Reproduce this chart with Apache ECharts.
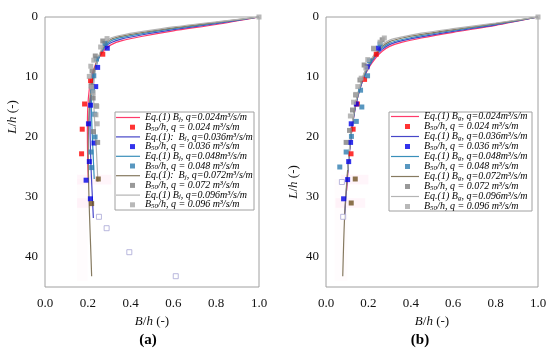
<!DOCTYPE html>
<html><head><meta charset="utf-8">
<script src="https://cdn.jsdelivr.net/npm/echarts@6/dist/echarts.min.js"></script>
<style>html,body{margin:0;padding:0;background:#fff}#c{width:550px;height:352px}</style>
</head><body><div id="c"></div>
<script>
// ---------- data ----------
const qValues = ['0.024', '0.036', '0.048', '0.072', '0.096'];
const xTickStep = 0.2;
const yTickStep = 10;

// Panel (a): Eq.(1) Bj curves  [B/h, L/h]
const aLine024 = [[1,0],[0.8,1.25],[0.6,2.3],[0.45,3.25],[0.36,3.95],[0.31,4.6],[0.28,5.4],[0.255,6.6],[0.235,8.0],[0.218,9.8],[0.207,12],[0.2,15],[0.198,19],[0.199,23],[0.202,27]];
const aLine036 = [[1,0],[0.8,1.1],[0.6,2.1],[0.45,3.0],[0.36,3.65],[0.31,4.25],[0.28,5.0],[0.258,6.3],[0.24,7.8],[0.225,9.8],[0.215,12.5],[0.21,16],[0.211,20],[0.215,25],[0.22,29],[0.226,33.5]];
const aLine048 = [[1,0],[0.8,1.0],[0.6,1.95],[0.45,2.8],[0.36,3.4],[0.31,3.95],[0.285,4.7],[0.262,6],[0.245,7.5],[0.23,9.5],[0.22,12],[0.217,15],[0.22,19],[0.225,23],[0.23,27]];
const aLine072 = [[1,0],[0.8,0.9],[0.6,1.8],[0.45,2.6],[0.36,3.2],[0.31,3.7],[0.285,4.4],[0.262,5.7],[0.243,7.3],[0.228,9.3],[0.215,12],[0.207,15],[0.203,19],[0.202,23],[0.204,28],[0.208,33],[0.213,38],[0.218,43.2]];
const aLine096 = [[1,0],[0.8,0.8],[0.6,1.65],[0.45,2.45],[0.36,3.0],[0.31,3.45],[0.285,4.1],[0.265,5.3],[0.248,6.9],[0.235,9],[0.228,11.5],[0.228,14],[0.233,18],[0.24,22],[0.247,27.5]];
// Panel (a): measured B50/h
const aPts024 = [[0.27,6.2],[0.213,10.6],[0.185,14.5],[0.174,18.7],[0.171,22.8]];
const aPts036 = [[0.291,5.2],[0.246,8.4],[0.237,11.6],[0.213,14.7],[0.203,17.8],[0.229,21.0],[0.207,24.1],[0.192,27.2],[0.212,30.3]];
const aPts048 = [[0.28,4.4],[0.24,7.0],[0.228,9.8],[0.222,12.3],[0.232,16.2],[0.234,20.0],[0.215,22.5],[0.218,25.1]];
const aPts072 = [[0.27,4.0],[0.235,6.5],[0.22,9.0],[0.215,11.5],[0.225,13.5],[0.24,14.8],[0.226,19.1],[0.246,20.9]];
const aPts096 = [[1,0],[0.29,3.6],[0.26,5.0],[0.228,7.2],[0.214,8.2],[0.207,9.9],[0.218,11.7],[0.225,12.6],[0.242,14.9],[0.238,16.3],[0.244,17.8]];
const aPtsBrown = [[0.249,27.0],[0.218,31.1]];
const aPtsHollow = [[0.252,33.3],[0.288,35.2],[0.394,39.2],[0.611,43.2]];

// Panel (b): Eq.(1) Bg curves
const bLine024 = [[1,0],[0.8,1.4],[0.6,2.55],[0.45,3.5],[0.36,4.2],[0.3,4.9],[0.265,5.7],[0.235,6.8],[0.205,8.3],[0.18,10],[0.16,12],[0.14,14.8],[0.125,18],[0.112,22],[0.103,26],[0.097,29]];
const bLine036 = [[1,0],[0.8,1.3],[0.6,2.4],[0.45,3.3],[0.36,3.95],[0.3,4.6],[0.265,5.4],[0.235,6.5],[0.205,8.1],[0.18,9.9],[0.16,12],[0.14,14.8],[0.125,18],[0.112,22],[0.102,26],[0.094,30],[0.088,33]];
const bLine048 = [[1,0],[0.8,1.2],[0.6,2.25],[0.45,3.1],[0.36,3.75],[0.3,4.35],[0.265,5.15],[0.235,6.3],[0.205,7.9],[0.18,9.7],[0.16,11.8],[0.14,14.6],[0.125,17.8],[0.112,21.8],[0.102,26]];
const bLine072 = [[1,0],[0.8,1.1],[0.6,2.1],[0.45,2.9],[0.36,3.5],[0.3,4.1],[0.265,4.9],[0.235,6.1],[0.205,7.7],[0.18,9.5],[0.16,11.6],[0.14,14.4],[0.125,17.6],[0.112,21.6],[0.102,25.5],[0.094,29.5],[0.088,33],[0.083,38],[0.079,43.2]];
const bLine096 = [[1,0],[0.8,1.0],[0.6,1.95],[0.45,2.7],[0.36,3.3],[0.3,3.85],[0.265,4.65],[0.235,5.9],[0.205,7.5],[0.18,9.3],[0.16,11.4],[0.14,14.2],[0.125,17.4],[0.112,21.4],[0.102,25.5]];
// Panel (b): measured B50/h
const bPts024 = [[0.237,6.2],[0.182,10.4],[0.148,14.5],[0.128,18.7],[0.118,22.8]];
const bPts036 = [[0.247,5.2],[0.194,8.3],[0.143,14.5],[0.119,17.8],[0.116,20.9],[0.107,24.1],[0.102,27.1],[0.083,30.3]];
const bPts048 = [[0.255,4.5],[0.205,7.3],[0.196,9.8],[0.163,12.2],[0.169,15.0],[0.143,17.4],[0.12,19.9],[0.095,22.5],[0.065,25.0]];
const bPts072 = [[0.265,3.8],[0.225,5.3],[0.18,8.0],[0.16,10.5],[0.14,13],[0.125,15.5],[0.111,18.9],[0.095,20.9]];
const bPts096 = [[1,0],[0.275,3.5],[0.255,4.2],[0.224,5.2],[0.197,7.1],[0.188,8.5],[0.166,10.2],[0.15,11.6],[0.141,12.9],[0.13,14.2],[0.115,16.5]];
const bPtsBrown = [[0.138,27.0],[0.119,31.0]];
const bPtsHollow = [[0.075,27.5],[0.081,33.3]];

// ---------- styles ----------
const lineColors = ['#ff3b6b', '#4646c8', '#3a8fba', '#867a60', '#b4b4b4'];
const ptColors = ['#ff0000', '#0000e6', '#2e7db0', '#7f7f7f', '#a6a6a6'];
const SERIF = '"Liberation Serif","Times New Roman",serif';

const panels = [
  { key: 'a', grid: { left: 45, top: 17, width: 214, height: 270 }, sub: 'j',
    lines: [aLine024, aLine036, aLine048, aLine072, aLine096],
    pts: [aPts024, aPts036, aPts048, aPts072, aPts096],
    brown: aPtsBrown, hollow: aPtsHollow, colon: [false, true, false, true, false],
    legendX: 116, lineIconW: 24, ptIconX: 130, rowTop: 117.5, rowStep: 9.7,
    box: { x: 115, y: 112, w: 139, h: 98 },
    yNamePad: [0, 0, 0, 70], label: '(a)', labelX: 148,
    bands: [[[0.15,26.3],[0.31,27.9]], [[0.15,30.2],[0.22,31.8]]],
    vband: [[0.15,27],[0.2,44]] },
  { key: 'b', grid: { left: 326, top: 17, width: 212, height: 270 }, sub: 'g',
    lines: [bLine024, bLine036, bLine048, bLine072, bLine096],
    pts: [bPts024, bPts036, bPts048, bPts072, bPts096],
    brown: bPtsBrown, hollow: bPtsHollow, colon: [false, false, false, false, false],
    legendX: 391, lineIconW: 28, ptIconX: 405, rowTop: 116.5, rowStep: 10,
    box: { x: 389, y: 112, w: 143, h: 99 },
    yNamePad: [0, 60, 0, 0], label: '(b)', labelX: 420,
    bands: [[[0.07,26.3],[0.2,27.9]], [[0.045,30.2],[0.185,31.8]]],
    vband: [[0.04,27],[0.1,44]] }
];

const richStyles = {
  i: { fontFamily: SERIF, fontStyle: 'italic', fontSize: 10, lineHeight: 10, color: '#000' },
  s: { fontFamily: SERIF, fontStyle: 'italic', fontSize: 7, lineHeight: 7, verticalAlign: 'bottom', color: '#000' }
};
const labelMap = {};

const grids = [], xAxes = [], yAxes = [], series = [], legends = [], graphics = [];

panels.forEach((p, pi) => {
  grids.push(Object.assign({ show: true, borderColor: '#a0a0a0', borderWidth: 1, backgroundColor: 'transparent' }, p.grid));
  xAxes.push({
    type: 'value', gridIndex: pi, min: 0, max: 1, interval: xTickStep,
    axisLine: { show: false }, axisTick: { show: false }, splitLine: { show: false },
    axisLabel: { margin: 10, fontFamily: SERIF, fontSize: 13, color: '#111', formatter: v => v.toFixed(1) },
    name: '{i|B}/{i|h} (-)', nameLocation: 'middle', nameGap: 17,
    nameTextStyle: { fontFamily: SERIF, fontSize: 13, color: '#111',
      rich: { i: { fontFamily: SERIF, fontStyle: 'italic', fontSize: 13, color: '#111' } } }
  });
  yAxes.push({
    type: 'value', gridIndex: pi, min: 0, max: 45, interval: yTickStep, inverse: true,
    axisLine: { show: false }, axisTick: { show: false }, splitLine: { show: false },
    axisLabel: { margin: 7, fontFamily: SERIF, fontSize: 13, color: '#111',
      formatter: v => (v % 10 === 0 && v <= 40) ? String(v) : '' },
    name: '{i|L}/{i|h} (-)', nameLocation: 'middle', nameRotate: 90, nameGap: 26,
    nameTextStyle: { fontFamily: SERIF, fontSize: 13, color: '#111', padding: p.yNamePad,
      rich: { i: { fontFamily: SERIF, fontStyle: 'italic', fontSize: 13, color: '#111' } } }
  });

  // faint pink highlight bands
  series.push({
    type: 'scatter', xAxisIndex: pi, yAxisIndex: pi, data: [], silent: true,
    markArea: { silent: true, itemStyle: { color: 'rgba(255,170,210,0.12)' },
      data: p.bands.map(b => [{ coord: b[0] }, { coord: b[1] }]).concat([
        [{ coord: p.vband[0], itemStyle: { color: 'rgba(255,200,225,0.06)' } }, { coord: p.vband[1] }]]) }
  });

  for (let k = 0; k < 5; k++) {
    const lname = p.key + '_line_' + k;
    const sname = p.key + '_pts_' + k;
    labelMap[lname] = '{i|Eq.(1)' + (p.colon[k] ? ':  ' : ' ') + 'B}{s|' + p.sub + '}{i|, q=' + qValues[k] + 'm³/s/m}';
    labelMap[sname] = '{i|B}{s|50}{i|/h, q = ' + qValues[k] + ' m³/s/m}';
    series.push({
      name: lname, type: 'line', xAxisIndex: pi, yAxisIndex: pi, data: p.lines[k],
      smooth: 0.25, symbol: 'none', z: 3,
      lineStyle: { color: lineColors[k], width: 1.2 }, itemStyle: { color: lineColors[k] }
    });
    series.push({
      name: sname, type: 'scatter', xAxisIndex: pi, yAxisIndex: pi, data: p.pts[k],
      symbol: 'rect', symbolSize: 5, z: 5, itemStyle: { color: ptColors[k] }
    });
    const top = p.rowTop + (2 * k) * p.rowStep - 5;
    legends.push({
      left: p.legendX, top: top, padding: 0, itemGap: 0, selectedMode: false,
      itemWidth: p.lineIconW, itemHeight: 1.2, icon: 'rect', data: [lname],
      itemStyle: { color: lineColors[k] },
      formatter: n => labelMap[n], textStyle: { rich: richStyles }
    });
    legends.push({
      left: p.ptIconX, top: top + p.rowStep, padding: 0, itemGap: 0, selectedMode: false,
      itemWidth: 5, itemHeight: 5, icon: 'rect', data: [sname],
      formatter: n => labelMap[n], textStyle: { padding: [0, 0, 0, p.legendX + p.lineIconW - p.ptIconX - 5], rich: richStyles }
    });
  }
  series.push({
    name: p.key + '_brown', type: 'scatter', xAxisIndex: pi, yAxisIndex: pi, data: p.brown,
    symbol: 'rect', symbolSize: 5, z: 5, itemStyle: { color: '#6e5020' }
  });
  series.push({
    name: p.key + '_hollow', type: 'scatter', xAxisIndex: pi, yAxisIndex: pi, data: p.hollow,
    symbol: 'rect', symbolSize: 5, z: 5, itemStyle: { color: '#fff', borderColor: '#a9a6d6', borderWidth: 1 }
  });

  graphics.push({ type: 'rect', shape: { x: p.box.x, y: p.box.y, width: p.box.w, height: p.box.h },
    style: { fill: 'none', stroke: '#a0a0a0', lineWidth: 1 }, silent: true });
  graphics.push({ type: 'text', x: p.labelX, y: 340,
    style: { text: p.label, font: 'bold 15px ' + SERIF, fill: '#000', align: 'center', verticalAlign: 'middle' } });
});

const chart = echarts.init(document.getElementById('c'), null, { renderer: 'canvas' });
chart.setOption({
  animation: false,
  backgroundColor: '#fff',
  grid: grids, xAxis: xAxes, yAxis: yAxes,
  legend: legends, series: series, graphic: graphics
});
</script></body></html>
